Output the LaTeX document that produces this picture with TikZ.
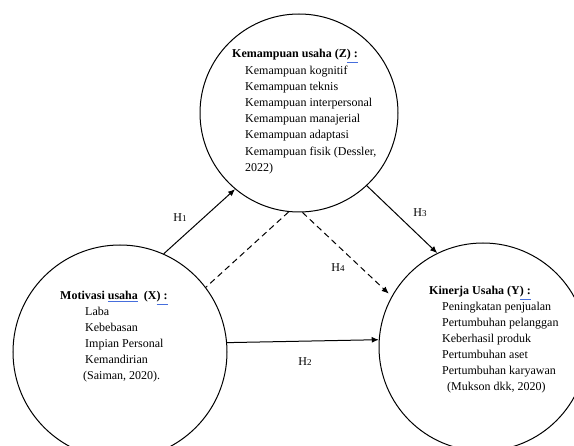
\documentclass[tikz,border=0pt]{standalone}
\usepackage{fontspec}
\setmainfont{Liberation Serif}
\usepackage{xcolor}
\usetikzlibrary{arrows.meta}
\definecolor{markblue}{RGB}{70,110,220}
\newcommand{\markit}[1]{{\color{markblue}\underline{\color{black}#1}}}
\newcommand{\hnum}[2]{#1{\fontsize{9}{9}\selectfont #2}}
\tikzstyle{bubble} = [circle, draw, line width=1pt, inner sep=0pt]
\tikzstyle{link} = [line width=1pt, -{Latex[length=7pt,width=6pt]}]
\tikzset{
	item/.style={anchor=base west, inner sep=0pt, font=\fontsize{12}{14}\selectfont},
	head/.style={item, font=\fontsize{12}{14}\selectfont\bfseries},
	hyp/.style={inner sep=0pt, font=\fontsize{12}{14}\selectfont},
	dash line/.style={line width=1pt, dash pattern=on 6pt off 4pt},
}

\begin{document}
\begin{tikzpicture}[x=1pt, y=-1pt]

\useasboundingbox (0,0) rectangle (574,446);
\clip (0,0) rectangle (574,446);

\node [bubble, minimum size=198pt] at (299,113) (z) {};
\node [bubble, minimum size=214pt] at (120,352) (x) {};
\node [bubble, minimum size=208pt] at (483,347) (y) {};

	%Z
\node [head] at (232,58) (zh) {Kemampuan usaha (Z\markit{) :}};
\foreach \i/\t in {1/Kemampuan kognitif, 2/Kemampuan teknis,
	3/Kemampuan interpersonal, 4/Kemampuan manajerial,
	5/Kemampuan adaptasi, 6/{Kemampuan fisik (Dessler,}, 7/2022)}
	\node [item] at (245,58+16.2*\i) (z\i) {\t};

	%X
\node [head] at (60,300) (xh) {Motivasi \markit{usaha}\ \ (X\markit{) :}};
\foreach \i/\t in {1/Laba, 2/Kebebasan, 3/Impian Personal, 4/Kemandirian}
	\node [item] at (85,300+16*\i) (x\i) {\t};
\node [item] at (83,380) (x5) {(Saiman, 2020).};

	%Y
\node [head] at (429,295) (yh) {Kinerja Usaha (Y\markit{) :}};
\foreach \i/\t in {1/Peningkatan penjualan, 2/Pertumbuhan pelanggan,
	3/Keberhasil produk, 4/Pertumbuhan aset, 5/Pertumbuhan karyawan}
	\node [item] at (442,295+16*\i) (y\i) {\t};
\node [item] at (447,391) (y6) {(Mukson dkk, 2020)};

\draw [link] (x.66) -- (z.230);
\draw [link] (z.313) -- (y.116);
\draw [link] (x.5.9) -- (y.176.7);
\draw [dash line] (z.264) -- (x.37);
\draw [dash line, -{Latex[length=7pt,width=6pt]}, shorten >=4pt] (z.272) -- (y.151);

\node [hyp] at (180,218) (h1) {\hnum{H}{1}};
\node [hyp] at (305,362) (h2) {\hnum{H}{2}};
\node [hyp] at (420,213) (h3) {\hnum{H}{3}};
\node [hyp] at (338,268) (h4) {\hnum{H}{4}};

\end{tikzpicture}
\end{document}
